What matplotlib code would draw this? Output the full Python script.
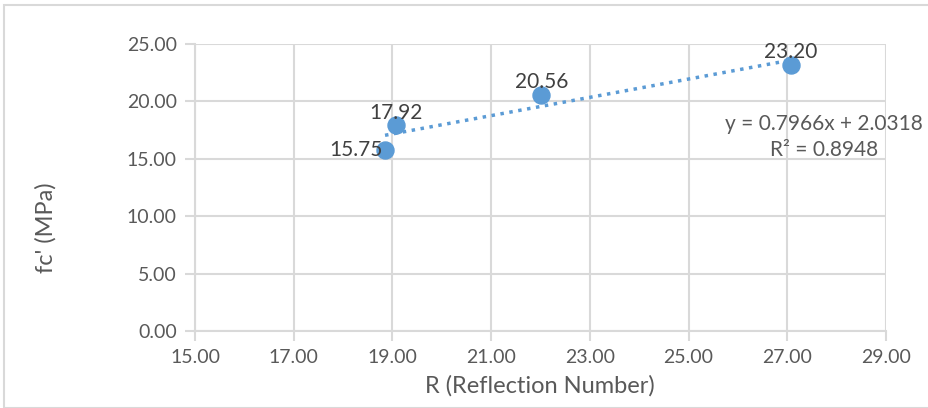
import matplotlib.pyplot as plt
from matplotlib.patches import Rectangle

plt.rcParams['font.family'] = ['Lato', 'DejaVu Sans']

# rebound number vs compressive strength
r_values = [18.85, 19.08, 22.02, 27.07]
fc_values = [15.75, 17.92, 20.56, 23.20]
point_labels = ['15.75', '17.92', '20.56', '23.20']

# linear trendline as reported
slope = 0.7966
intercept = 2.0318
r_squared = 0.8948

x_ticks = [15, 17, 19, 21, 23, 25, 27, 29]
y_ticks = [0, 5, 10, 15, 20, 25]

blue = '#5b9bd5'
grid_col = '#d9d9d9'
text_col = '#595959'

fig = plt.figure(figsize=(9.29, 4.08), dpi=100)
ax = fig.add_axes([195 / 929, 77 / 408, 691 / 929, 287 / 408])

# chart frame
fig.patches.append(Rectangle((4 / 929, 0), 2, 403 / 408, transform=fig.transFigure,
                             fill=False, edgecolor=grid_col, linewidth=1.5))

ax.set_xlim(15, 29)
ax.set_ylim(0, 25)
ax.set_xticks(x_ticks)
ax.set_yticks(y_ticks)
ax.set_xticklabels(['%.2f' % v for v in x_ticks])
ax.set_yticklabels(['%.2f' % v for v in y_ticks])
ax.grid(True, color=grid_col, linewidth=1.5)
ax.set_axisbelow(True)
for side in ['top', 'right']:
    ax.spines[side].set_visible(False)
for side in ['left', 'bottom']:
    ax.spines[side].set_color(grid_col)
    ax.spines[side].set_linewidth(1.5)
ax.tick_params(colors=grid_col, labelcolor=text_col, labelsize=14, length=7, width=1.5, pad=6)

# trendline over the data range
x0, x1 = min(r_values), max(r_values)
ax.plot([x0, x1], [slope * x0 + intercept, slope * x1 + intercept],
        linestyle=(0, (1, 1.6)), color=blue, linewidth=2.5, zorder=2)

ax.scatter(r_values, fc_values, s=150, color=blue, zorder=3, clip_on=False)

# data labels
offsets = [(-2, 0, 'right', 'center'), (0, 2, 'center', 'bottom'),
           (0, 2, 'center', 'bottom'), (0, 2, 'center', 'bottom')]
for x, y, lab, (dx, dy, ha, va) in zip(r_values, fc_values, point_labels, offsets):
    ax.annotate(lab, (x, y), xytext=(dx, dy), textcoords='offset points',
                ha=ha, va=va, fontsize=15, color='#404040', zorder=4)

ax.text(824 / 929, 1 - 137 / 408,
        'y = %.4fx + %.4f\nR² = %.4f' % (slope, intercept, r_squared),
        transform=fig.transFigure, ha='center', va='center', fontsize=15,
        color=text_col, linespacing=1.4)

fig.text(540 / 929, 1 - 386 / 408, 'R (Reflection Number)', ha='center', va='center',
         fontsize=17, color=text_col)
fig.text(46 / 929, 1 - 228 / 408, "fc' (MPa)", ha='center', va='center',
         rotation=90, fontsize=17, color=text_col)

fig.savefig('out.png', dpi=100)
